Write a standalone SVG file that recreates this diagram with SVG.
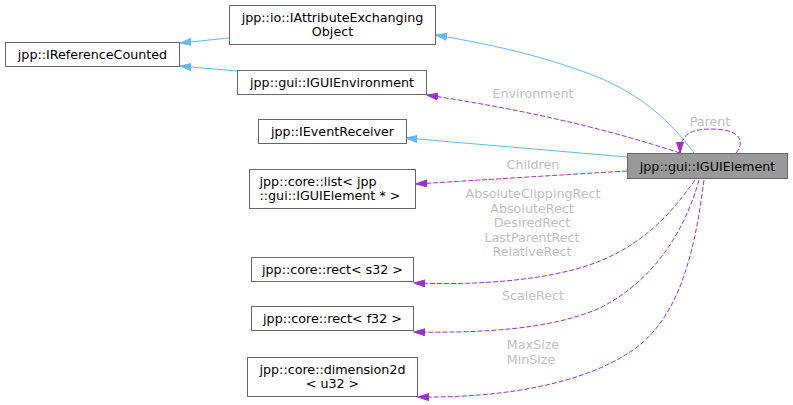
<svg xmlns="http://www.w3.org/2000/svg" width="793" height="405" viewBox="0 0 793 405">
<style>
  .box { fill: #ffffff; stroke: #666666; stroke-width: 1; }
  .cur { fill: #999999; stroke: #666666; stroke-width: 1; }
  .t { font-family: "DejaVu Sans", "Liberation Sans", sans-serif; font-size: 12.7px; fill: #000000; }
  .c { text-anchor: middle; }
  .lbl { font-family: "DejaVu Sans", "Liberation Sans", sans-serif; font-size: 12.7px; fill: #c0c0c0; text-anchor: middle; }
  .inh { fill: none; stroke: #63b8ff; stroke-width: 1; marker-end: url(#ab); }
  .use { fill: none; stroke: #9a32cd; stroke-width: 1; stroke-dasharray: 5,2; marker-end: url(#ap); }
</style>
<defs>
  <marker id="ab" markerUnits="userSpaceOnUse" markerWidth="12" markerHeight="9" refX="11" refY="4" orient="auto" viewBox="0 0 12 9">
    <path d="M0,0.5 L11,4 L0,7.5 z" fill="#63b8ff" stroke="#63b8ff" stroke-width="1"/>
  </marker>
  <marker id="ap" markerUnits="userSpaceOnUse" markerWidth="12" markerHeight="9" refX="11" refY="4" orient="auto" viewBox="0 0 12 9">
    <path d="M0,0.5 L11,4 L0,7.5 z" fill="#9a32cd" stroke="#9a32cd" stroke-width="1"/>
  </marker>
</defs>
<rect width="793" height="405" fill="#ffffff"/>
<g id="edges">
  <path class="inh" d="M229,38 L180,43"/>
  <path class="inh" d="M237,71 L180,66"/>
  <path class="inh" d="M694,153 C670,120 640,95 600,78 C550,58 500,46 436,35"/>
  <path class="inh" d="M627,157 L406,138"/>
  <path class="use" d="M680,153 C640,140 560,115 427,95"/>
  <path class="use" d="M736,153 C744,144 744,129 711,129 C690,129 680,135 680,153"/>
  <path class="use" d="M627,171 C560,175 480,180 416,184"/>
  <path class="use" d="M695,180 C670,215 640,250 580,268 C530,282 470,285 414,283"/>
  <path class="use" d="M699,180 C685,230 655,280 600,308 C550,330 480,333 414,332"/>
  <path class="use" d="M704,180 C695,250 680,320 630,352 C580,385 500,398 418,397"/>
  <text class="lbl" x="533" y="98">Environment</text>
  <text class="lbl" x="710" y="126">Parent</text>
  <text class="lbl" x="533" y="169">Children</text>
  <text class="lbl" x="533" y="198">AbsoluteClippingRect</text>
  <text class="lbl" x="532" y="212.5">AbsoluteRect</text>
  <text class="lbl" x="532" y="227">DesiredRect</text>
  <text class="lbl" x="532" y="241.5">LastParentRect</text>
  <text class="lbl" x="532" y="256">RelativeRect</text>
  <text class="lbl" x="533" y="300">ScaleRect</text>
  <text class="lbl" x="533" y="349">MaxSize</text>
  <text class="lbl" x="531" y="363.5">MinSize</text>
</g>
<g id="IGUIElement">
  <rect class="cur" x="627.5" y="153.5" width="160" height="25"/>
  <text class="t c" x="707.5" y="170.5">jpp::gui::IGUIElement</text>
</g>
<g id="IAttributeExchangingObject">
  <rect class="box" x="229.5" y="5.5" width="206" height="39"/>
  <text class="t c" x="332.5" y="22">jpp::io::IAttributeExchanging</text>
  <text class="t c" x="332.5" y="36">Object</text>
</g>
<g id="IReferenceCounted">
  <rect class="box" x="5.5" y="42.5" width="174" height="24"/>
  <text class="t c" x="92.5" y="58.5">jpp::IReferenceCounted</text>
</g>
<g id="IGUIEnvironment">
  <rect class="box" x="237.5" y="70.5" width="189" height="24"/>
  <text class="t c" x="332" y="86.5">jpp::gui::IGUIEnvironment</text>
</g>
<g id="IEventReceiver">
  <rect class="box" x="258.5" y="119.5" width="148" height="24"/>
  <text class="t c" x="332.5" y="135.5">jpp::IEventReceiver</text>
</g>
<g id="list">
  <rect class="box" x="249.5" y="169.5" width="166" height="39"/>
  <text class="t" x="259.5" y="186">jpp::core::list&lt; jpp</text>
  <text class="t" x="259.5" y="200">::gui::IGUIElement * &gt;</text>
</g>
<g id="rect_s32">
  <rect class="box" x="251.5" y="257.5" width="162" height="24"/>
  <text class="t c" x="332.5" y="273.5">jpp::core::rect&lt; s32 &gt;</text>
</g>
<g id="rect_f32">
  <rect class="box" x="251.5" y="306.5" width="162" height="24"/>
  <text class="t c" x="332.5" y="322.5">jpp::core::rect&lt; f32 &gt;</text>
</g>
<g id="dimension2d">
  <rect class="box" x="247.5" y="357.5" width="170" height="39"/>
  <text class="t c" x="332.5" y="374">jpp::core::dimension2d</text>
  <text class="t c" x="332.5" y="388">&lt; u32 &gt;</text>
</g>
</svg>
